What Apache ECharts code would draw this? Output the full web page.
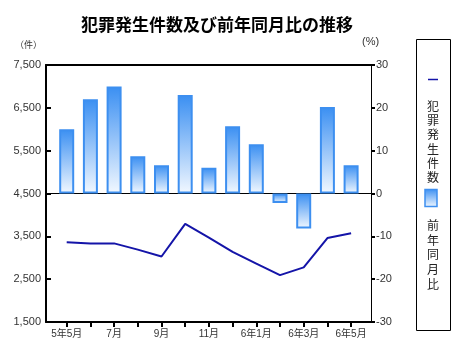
<!DOCTYPE html>
<html>
<head>
<meta charset="utf-8">
<script src="https://cdn.jsdelivr.net/npm/echarts@6/dist/echarts.min.js"></script>
<style>
html,body{margin:0;padding:0;background:#fff;}
#chart{width:469px;height:363px;}
</style>
</head>
<body>
<div id="chart"></div>
<script>
// ---- data ----
var categories = ['5年5月','6月','7月','8月','9月','10月','11月','12月','6年1月','2月','6年3月','4月','6年5月'];
var crimeCounts = [3360, 3335, 3335, 3190, 3030, 3790, 3470, 3135, 2865, 2595, 2775, 3460, 3570];
var yoyPercent = [15.0, 22.0, 25.0, 8.7, 6.6, 23.0, 6.0, 15.7, 11.5, -2.2, -8.2, 20.2, 6.6];
var countTicks = [1500, 2500, 3500, 4500, 5500, 6500, 7500];
var percentTicks = [-30, -20, -10, 0, 10, 20, 30];
var seriesNames = ['犯罪発生件数', '前年同月比'];
var titleText = '犯罪発生件数及び前年同月比の推移';

var FONT = '"Liberation Sans", Arial, "Noto Sans CJK JP", sans-serif';
var CJK = '"Noto Sans CJK JP", sans-serif';

function addCommas(v){ return String(v).replace(/\B(?=(\d{3})+(?!\d))/g, ','); }

var barGradient = new echarts.graphic.LinearGradient(0, 0, 0, 1, [
  {offset: 0, color: '#3a8ff2'},
  {offset: 1, color: '#f2f8ff'}
]);

var chart = echarts.init(document.getElementById('chart'), null, {renderer: 'canvas'});
var option = {
  animation: false,
  backgroundColor: '#fff',
  title: {
    text: titleText,
    left: 212, top: 11, textAlign: 'center',
    textStyle: {fontFamily: CJK, fontSize: 17, fontWeight: 'bold', color: '#000'}
  },
  grid: [
    {left: 46, top: 65, width: 325, height: 257},
    {left: 54.85, top: 65, width: 308.1, height: 257},
    {left: 46, top: 65, width: 325, height: 257}
  ],
  xAxis: [
    {gridIndex: 0, type: 'category', data: categories, position: 'bottom',
     axisLine: {onZero: true, lineStyle: {color: '#000', width: 1}},
     axisTick: {show: false}, axisLabel: {show: false}, splitLine: {show: false}},
    {gridIndex: 0, type: 'category', data: categories, position: 'top',
     axisLine: {onZero: false, lineStyle: {color: '#000', width: 2}},
     axisTick: {show: false}, axisLabel: {show: false}, splitLine: {show: false}},
    {gridIndex: 1, type: 'category', data: categories, position: 'bottom',
     axisLine: {show: false, onZero: false},
     axisTick: {show: true, alignWithLabel: true, interval: 0, length: 5, lineStyle: {color: '#000', width: 2}},
     axisLabel: {interval: 1, fontSize: 10, color: '#333', fontFamily: FONT, margin: 7},
     splitLine: {show: false}},
    {gridIndex: 2, type: 'category', data: categories, position: 'bottom',
     axisLine: {onZero: false, lineStyle: {color: '#000', width: 2}},
     axisTick: {show: false}, axisLabel: {show: false}, splitLine: {show: false}}
  ],
  yAxis: [
    {gridIndex: 0, type: 'value', position: 'left', min: countTicks[0], max: countTicks[countTicks.length-1], interval: 1000,
     axisLine: {show: true, lineStyle: {color: '#000', width: 2}},
     axisTick: {show: true, inside: true, length: 5, lineStyle: {color: '#000', width: 2}},
     axisLabel: {formatter: function(v){ return addCommas(v); }, fontSize: 11, color: '#333', fontFamily: FONT, margin: 5},
     splitLine: {show: false}},
    {gridIndex: 0, type: 'value', position: 'right', min: percentTicks[0], max: percentTicks[percentTicks.length-1], interval: 10,
     axisLine: {show: true, lineStyle: {color: '#000', width: 1}},
     axisTick: {show: true, length: 4, lineStyle: {color: '#000', width: 2}},
     axisLabel: {fontSize: 11, color: '#333', fontFamily: FONT, margin: 5},
     splitLine: {show: false}},
    {gridIndex: 1, type: 'value', position: 'left', min: countTicks[0], max: countTicks[countTicks.length-1],
     show: false, splitLine: {show: false}},
    {gridIndex: 1, type: 'value', position: 'right', min: percentTicks[0], max: percentTicks[percentTicks.length-1],
     show: false, splitLine: {show: false}},
    {gridIndex: 2, type: 'value', min: 0, max: 1, show: false, splitLine: {show: false}}
  ],
  series: [
    {name: seriesNames[1], type: 'bar', xAxisIndex: 2, yAxisIndex: 3, data: yoyPercent,
     barWidth: 15,
     itemStyle: {color: barGradient, borderColor: '#3d8ff0', borderWidth: 2},
     z: 2},
    {name: seriesNames[0], type: 'line', xAxisIndex: 2, yAxisIndex: 2, data: crimeCounts,
     symbol: 'none', lineStyle: {color: '#1414a8', width: 2}, itemStyle: {color: '#1414a8'}, z: 3}
  ],
  graphic: [
    {type: 'text', left: 15, top: 40, style: {text: '（件）', fontSize: 9, fontFamily: CJK, fill: '#333'}},
    {type: 'text', left: 362, top: 36, style: {text: '(%)', fontSize: 11, fontFamily: FONT, fill: '#333'}},
    {type: 'rect', shape: {x: 416.5, y: 39.5, width: 34, height: 291}, style: {fill: 'none', stroke: '#000', lineWidth: 1}},
    {type: 'line', shape: {x1: 428, y1: 79.5, x2: 438, y2: 79.5}, style: {stroke: '#1414a8', lineWidth: 1.5}},
    {type: 'text', x: 433, y: 99, style: {text: seriesNames[0].split('').join('\n'), fontSize: 12, lineHeight: 14.3, fontFamily: CJK, fill: '#222', align: 'center'}},
    {type: 'rect', shape: {x: 425, y: 189.5, width: 12, height: 17}, style: {fill: new echarts.graphic.LinearGradient(0, 0, 0, 1, [{offset: 0, color: '#3a8ff2'}, {offset: 1, color: '#f2f8ff'}]), stroke: '#3d8ff0', lineWidth: 1.5}},
    {type: 'text', x: 433, y: 218, style: {text: seriesNames[1].split('').join('\n'), fontSize: 12, lineHeight: 14.7, fontFamily: CJK, fill: '#222', align: 'center'}}
  ]
};
chart.setOption(option);
</script>
</body>
</html>
